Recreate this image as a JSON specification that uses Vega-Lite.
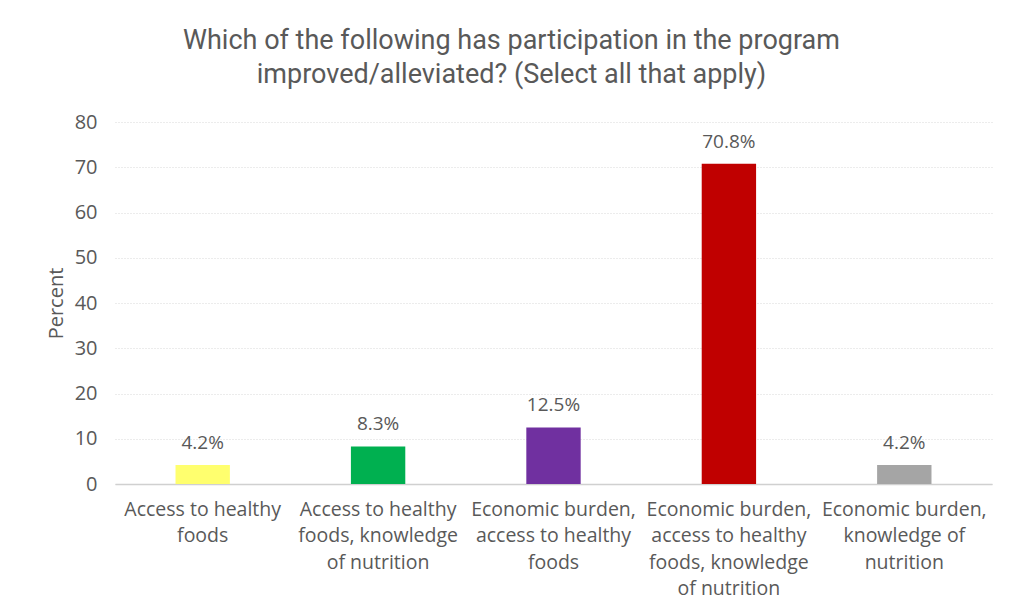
{
  "$schema": "https://vega.github.io/schema/vega-lite/v6.json",
  "width": 877,
  "height": 362,
  "autosize": "none",
  "padding": {"left": 115, "top": 122, "right": 21, "bottom": 128},
  "background": "white",
  "title": {
    "text": ["Which of the following has participation in the program", "improved/alleviated? (Select all that apply)"],
    "anchor": "middle",
    "dx": -42,
    "offset": 23,
    "font": "Roboto",
    "fontSize": 27,
    "fontWeight": "normal",
    "color": "#595959",
    "lineHeight": 34
  },
  "data": {
    "values": [
      {"category": "Access to healthy|foods", "value": 4.2, "color": "c1"},
      {"category": "Access to healthy|foods, knowledge|of nutrition", "value": 8.3, "color": "c2"},
      {"category": "Economic burden,|access to healthy|foods", "value": 12.5, "color": "c3"},
      {"category": "Economic burden,|access to healthy|foods, knowledge|of nutrition", "value": 70.8, "color": "c4"},
      {"category": "Economic burden,|knowledge of|nutrition", "value": 4.2, "color": "c5"}
    ]
  },
  "transform": [{"calculate": "format(datum.value, '.1f') + '%'", "as": "label"}],
  "encoding": {
    "x": {
      "field": "category",
      "type": "nominal",
      "sort": null,
      "scale": {"paddingInner": 0.69, "paddingOuter": 0.345},
      "axis": {
        "title": null,
        "labelAngle": 0,
        "labelExpr": "split(datum.label, '|')",
        "labelFont": "Open Sans",
        "labelFontSize": 19.5,
        "labelLineHeight": 26.5,
        "labelColor": "#595959",
        "labelPadding": 16,
        "labelBaseline": "top",
        "ticks": false,
        "domainColor": "#d0d0d0",
        "domainWidth": 1.5,
        "labelLimit": 300
      }
    },
    "y": {
      "field": "value",
      "type": "quantitative",
      "scale": {"domain": [0, 80]},
      "axis": {
        "title": "Percent",
        "titleFont": "Open Sans",
        "titleFontSize": 20,
        "titleFontWeight": "normal",
        "titleColor": "#595959",
        "titlePadding": 8,
        "values": [0, 10, 20, 30, 40, 50, 60, 70, 80],
        "labelFont": "Open Sans",
        "labelFontSize": 20,
        "labelColor": "#595959",
        "labelPadding": 18,
        "ticks": false,
        "domain": false,
        "gridColor": "#d9d9d9",
        "gridDash": [1, 2],
        "gridWidth": 1
      }
    }
  },
  "layer": [
    {
      "mark": {"type": "bar"},
      "encoding": {
        "color": {
          "field": "color",
          "type": "nominal",
          "scale": {"domain": ["c1", "c2", "c3", "c4", "c5"], "range": ["#FFFF6E", "#00B050", "#7030A0", "#C00000", "#A5A5A5"]},
          "legend": null
        }
      }
    },
    {
      "mark": {"type": "text", "baseline": "alphabetic", "dy": -16, "font": "Open Sans", "fontSize": 19, "color": "#595959"},
      "encoding": {"text": {"field": "label"}}
    }
  ],
  "config": {"view": {"stroke": null}}
}
